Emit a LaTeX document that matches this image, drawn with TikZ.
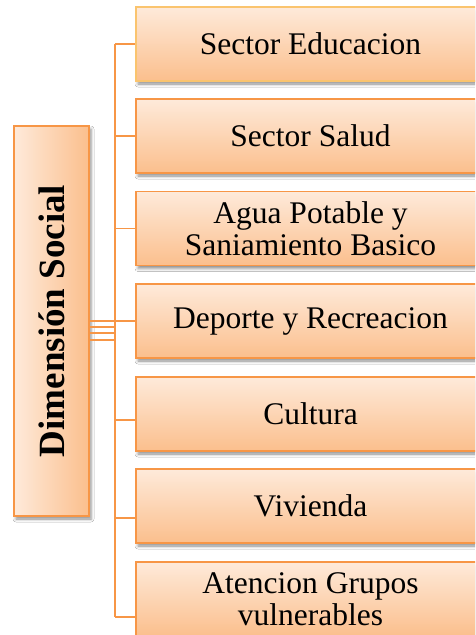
\documentclass[tikz,border=0pt]{standalone}
\usepackage{fontspec}
\setmainfont{Liberation Serif}
\usetikzlibrary{shadows.blur}
\definecolor{orgline}{RGB}{247,150,70}
\definecolor{orglight}{RGB}{254,234,218}
\definecolor{orgdark}{RGB}{251,191,141}
\definecolor{yelline}{RGB}{250,196,110}
\tikzset{
  x=1pt,y=1pt,
  leaf/.style={draw=orgline, line width=1.6pt, minimum width=349pt, minimum height=74pt,
    top color=orglight, bottom color=orgdark, inner sep=0pt, align=center,
    font=\fontsize{31.5}{32}\selectfont,
    blur shadow={shadow xshift=2pt, shadow yshift=-3pt, shadow blur radius=3pt, shadow opacity=45}},
  rootbox/.style={draw=orgline, line width=1.6pt, minimum width=75pt, minimum height=390pt,
    left color=orglight, right color=orgdark, inner sep=0pt,
    blur shadow={shadow xshift=2pt, shadow yshift=-3pt, shadow blur radius=3pt, shadow opacity=45}},
  conn/.style={draw=orgline, line width=1.6pt}
}
\begin{document}
\begin{tikzpicture}
\useasboundingbox (0,0) rectangle (475,-635);
\clip (0,0) rectangle (475,-635);
\fill[white] (0,0) rectangle (475,-635);
% trunk
\coordinate (tTop) at (115,-44);
\coordinate (tBot) at (115,-617);
% root
\node[rootbox] (root) at (51.5,-321) {};
\node[rotate=90, font=\bfseries\fontsize{37}{40}\selectfont] (roottext) at (root.center) {Dimensión Social};
% leaves
\node[leaf, draw=yelline] (b1) at (310.5,-44) {Sector Educacion};
\node[leaf] (b2) at (310.5,-136) {Sector Salud};
\node[leaf] (b3) at (310.5,-228.5) {Agua Potable y\\Saniamiento Basico};
\node[leaf] (b4) at (310.5,-321) {Deporte y Recreacion};
\node[leaf] (b5) at (310.5,-414) {Cultura};
\node[leaf] (b6) at (310.5,-506) {Vivienda};
\node[leaf] (b7) at (310.5,-599) {Atencion Grupos\\vulnerables};
% attachment points
\coordinate (c5) at ([yshift=-6pt]b5.west);
\coordinate (c6) at ([yshift=-12pt]b6.west);
\coordinate (c7) at ([yshift=-18pt]b7.west);
\coordinate (r1) at ([yshift=-6pt]root.east);
\coordinate (r2) at ([yshift=-12pt]root.east);
\coordinate (r3) at ([yshift=-19pt]root.east);
% connectors
\draw[conn] (tTop) -- (tBot);
\draw[conn] (tTop |- b1.west) -- (b1.west);
\draw[conn] (tTop |- b2.west) -- (b2.west);
\draw[conn] (tTop |- b3.west) -- (b3.west);
\draw[conn] (tTop |- b4.west) -- (b4.west);
\draw[conn] (tTop |- c5) -- (c5);
\draw[conn] (tTop |- c6) -- (c6);
\draw[conn] (tTop |- c7) -- (c7);
\draw[conn] (root.east) -- (tTop |- root.east);
\draw[conn] (r1) -- (tTop |- r1);
\draw[conn] (r2) -- (tTop |- r2);
\draw[conn] (r3) -- (tTop |- r3);
\end{tikzpicture}
\end{document}
